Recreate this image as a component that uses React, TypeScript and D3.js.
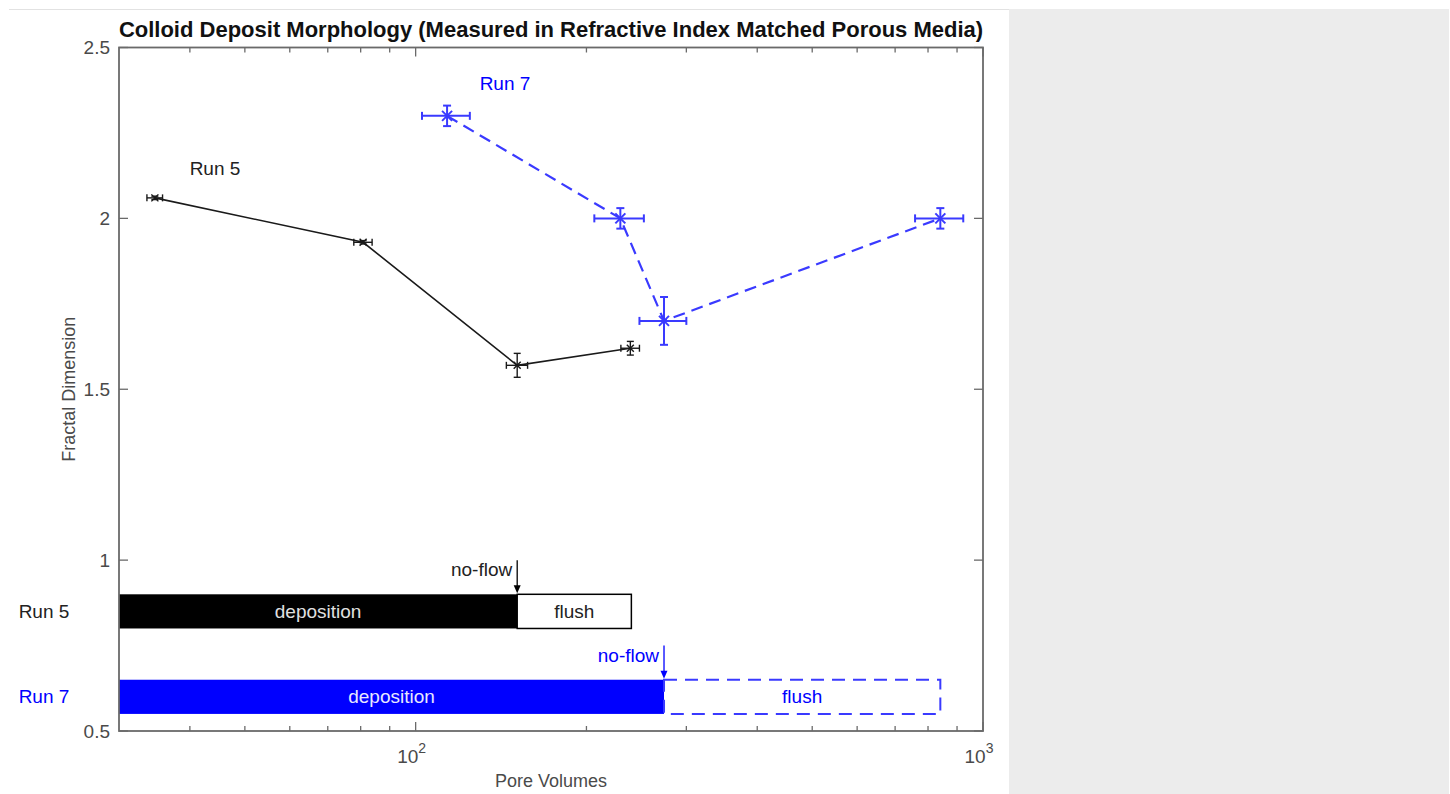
import React from "react";
import * as d3 from "d3";

// Run 5 measurements (pore volumes, fractal dimension, errors)
const run5Pv = [34.7, 80.8, 151, 239];
const run5Df = [2.06, 1.93, 1.57, 1.62];
const run5PvErr = [1.1, 3, 6.5, 9];
const run5DfErr = [0.005, 0.005, 0.035, 0.02];

// Run 7 measurements
const run7Pv = [113.6, 229.5, 274, 841];
const run7Df = [2.3, 2.0, 1.7, 2.0];
const run7PvErr = [11, 23, 26, 82];
const run7DfErr = [0.03, 0.03, 0.07, 0.03];

// phase bars: [start, no-flow, end] in pore volumes, and [bottom, top] in y
const run5Phases = [30, 151, 240];
const run5Band = [0.8, 0.9];
const run7Phases = [30, 274, 841];
const run7Band = [0.55, 0.65];

const yTicks = [0.5, 1, 1.5, 2, 2.5];
const xMajor = [100, 1000];

const W = 1450, H = 794;
const FONT = "'Liberation Sans', Arial, Helvetica, sans-serif";
const BLUE = "#0000ff";
const BLUE_LINE = "#3a3aff";

export default function App() {
  const margin = { left: 119, right: 983, top: 47.5, bottom: 731 };

  const x = d3.scaleLog().domain([30, 1000]).range([margin.left, margin.right]);
  const y = d3.scaleLinear().domain([0.5, 2.5]).range([margin.bottom, margin.top]);

  // minor log ticks (40..90, 200..900)
  const minor = x.ticks().filter((t) => !xMajor.includes(t) && t > 30 && t < 1000);

  const path = (xs: number[], ys: number[]) =>
    d3
      .line<number>()
      .x((d) => x(d))
      .y((_, i) => y(ys[i]))(xs) as string;

  const errorBars = (
    xs: number[],
    ys: number[],
    xe: number[],
    ye: number[],
    color: string,
    sw: number,
    cap: number,
    mk: number
  ) =>
    xs.map((xv, i) => {
      const cx = x(xv), cy = y(ys[i]);
      const x0 = x(xv - xe[i]), x1 = x(xv + xe[i]);
      const y0 = y(ys[i] - ye[i]), y1 = y(ys[i] + ye[i]);
      return (
        <g key={i} stroke={color} strokeWidth={sw} fill="none">
          <line x1={x0} x2={x1} y1={cy} y2={cy} />
          <line x1={x0} x2={x0} y1={cy - cap} y2={cy + cap} />
          <line x1={x1} x2={x1} y1={cy - cap} y2={cy + cap} />
          <line x1={cx} x2={cx} y1={y0} y2={y1} />
          <line x1={cx - cap} x2={cx + cap} y1={y0} y2={y0} />
          <line x1={cx - cap} x2={cx + cap} y1={y1} y2={y1} />
          <line x1={cx - mk} x2={cx + mk} y1={cy - mk} y2={cy + mk} />
          <line x1={cx - mk} x2={cx + mk} y1={cy + mk} y2={cy - mk} />
        </g>
      );
    });

  const midX = (a: number, b: number) => (x(a) + x(b)) / 2;
  const midY = (band: number[]) => (y(band[0]) + y(band[1])) / 2;

  const axisColor = "#6a6a6a";
  const tickText = "#4a4a4a";

  return (
    <svg
      width={W}
      height={H}
      style={{ position: "absolute", left: 0, top: 0, display: "block" }}
      fontFamily={FONT}
    >
      <rect x={0} y={0} width={W} height={H} fill="#ffffff" />
      <rect x={1009} y={9} width={440} height={H - 9} fill="#ececec" />
      <line x1={9} x2={1009} y1={9.5} y2={9.5} stroke="#e2e2e2" />

      {/* title */}
      <text
        x={(margin.left + margin.right) / 2}
        y={37}
        textAnchor="middle"
        fontWeight="bold"
        fontSize={22}
        fill="#111"
      >
        Colloid Deposit Morphology (Measured in Refractive Index Matched Porous Media)
      </text>

      {/* phase bars */}
      <rect
        x={x(run5Phases[0])}
        y={y(run5Band[1])}
        width={x(run5Phases[1]) - x(run5Phases[0])}
        height={y(run5Band[0]) - y(run5Band[1])}
        fill="#000"
      />
      <rect
        x={x(run5Phases[1])}
        y={y(run5Band[1])}
        width={x(run5Phases[2]) - x(run5Phases[1])}
        height={y(run5Band[0]) - y(run5Band[1])}
        fill="#fff"
        stroke="#000"
        strokeWidth={1.5}
      />
      <rect
        x={x(run7Phases[0])}
        y={y(run7Band[1])}
        width={x(run7Phases[1]) - x(run7Phases[0])}
        height={y(run7Band[0]) - y(run7Band[1])}
        fill={BLUE}
      />
      <rect
        x={x(run7Phases[1])}
        y={y(run7Band[1])}
        width={x(run7Phases[2]) - x(run7Phases[1])}
        height={y(run7Band[0]) - y(run7Band[1])}
        fill="#fff"
        stroke={BLUE_LINE}
        strokeWidth={2}
        strokeDasharray="13 8"
      />
      <g fontSize={19} textAnchor="middle" dominantBaseline="central">
        <text x={midX(run5Phases[0], run5Phases[1])} y={midY(run5Band)} fill="#e0e0e0">
          deposition
        </text>
        <text x={midX(run5Phases[1], run5Phases[2])} y={midY(run5Band)} fill="#222">
          flush
        </text>
        <text x={midX(run7Phases[0], run7Phases[1])} y={midY(run7Band)} fill="#e8e8ff">
          deposition
        </text>
        <text x={midX(run7Phases[1], run7Phases[2])} y={midY(run7Band)} fill={BLUE}>
          flush
        </text>
      </g>

      {/* no-flow arrows */}
      <g>
        <line x1={x(run5Phases[1])} x2={x(run5Phases[1])} y1={y(1.0)} y2={y(run5Band[1]) - 6} stroke="#000" strokeWidth={1.3} />
        <path
          d={`M${x(run5Phases[1]) - 3.5},${y(run5Band[1]) - 9} L${x(run5Phases[1]) + 3.5},${y(run5Band[1]) - 9} L${x(run5Phases[1])},${y(run5Band[1]) - 1} Z`}
          fill="#000"
        />
        <text x={x(run5Phases[1]) - 5} y={y(0.974)} fontSize={19} textAnchor="end" dominantBaseline="central" fill="#222">
          no-flow
        </text>
        <line x1={x(run7Phases[1])} x2={x(run7Phases[1])} y1={y(0.75)} y2={y(run7Band[1]) - 6} stroke={BLUE} strokeWidth={1.3} />
        <path
          d={`M${x(run7Phases[1]) - 3.5},${y(run7Band[1]) - 9} L${x(run7Phases[1]) + 3.5},${y(run7Band[1]) - 9} L${x(run7Phases[1])},${y(run7Band[1]) - 1} Z`}
          fill={BLUE}
        />
        <text x={x(run7Phases[1]) - 5} y={y(0.72)} fontSize={19} textAnchor="end" dominantBaseline="central" fill={BLUE}>
          no-flow
        </text>
      </g>

      {/* data */}
      <path d={path(run5Pv, run5Df)} fill="none" stroke="#1a1a1a" strokeWidth={1.6} />
      {errorBars(run5Pv, run5Df, run5PvErr, run5DfErr, "#1a1a1a", 1.4, 3.5, 3.5)}
      <path d={path(run7Pv, run7Df)} fill="none" stroke={BLUE_LINE} strokeWidth={2.2} strokeDasharray="12 7" />
      {errorBars(run7Pv, run7Df, run7PvErr, run7DfErr, BLUE_LINE, 2, 4, 5)}

      {/* annotations */}
      <text x={215} y={y(2.145)} fontSize={19} textAnchor="middle" dominantBaseline="central" fill="#222">
        Run 5
      </text>
      <text x={505} y={y(2.395)} fontSize={19} textAnchor="middle" dominantBaseline="central" fill={BLUE}>
        Run 7
      </text>
      <text x={44} y={midY(run5Band)} fontSize={19} textAnchor="middle" dominantBaseline="central" fill="#222">
        Run 5
      </text>
      <text x={44} y={midY(run7Band)} fontSize={19} textAnchor="middle" dominantBaseline="central" fill={BLUE}>
        Run 7
      </text>

      {/* axes box */}
      <rect
        x={margin.left}
        y={margin.top}
        width={margin.right - margin.left}
        height={margin.bottom - margin.top}
        fill="none"
        stroke={axisColor}
        strokeWidth={1.8}
      />
      <g stroke={axisColor} strokeWidth={1.3}>
        {yTicks.map((t) => (
          <g key={t}>
            <line x1={margin.left} x2={margin.left + 9} y1={y(t)} y2={y(t)} />
            <line x1={margin.right} x2={margin.right - 9} y1={y(t)} y2={y(t)} />
          </g>
        ))}
        {xMajor.map((t) => (
          <g key={t}>
            <line x1={x(t)} x2={x(t)} y1={margin.bottom} y2={margin.bottom - 9} />
            <line x1={x(t)} x2={x(t)} y1={margin.top} y2={margin.top + 9} />
          </g>
        ))}
        {minor.map((t) => (
          <g key={t}>
            <line x1={x(t)} x2={x(t)} y1={margin.bottom} y2={margin.bottom - 5} />
            <line x1={x(t)} x2={x(t)} y1={margin.top} y2={margin.top + 5} />
          </g>
        ))}
      </g>
      <g fontSize={19} fill={tickText}>
        {yTicks.map((t) => (
          <text key={t} x={margin.left - 9} y={y(t)} textAnchor="end" dominantBaseline="central">
            {t}
          </text>
        ))}
        {xMajor.map((t) => (
          <text key={t} x={x(t) - 4} y={763} textAnchor="middle">
            10
            <tspan fontSize={14} dy={-10}>
              {Math.round(Math.log10(t))}
            </tspan>
          </text>
        ))}
      </g>

      {/* axis labels */}
      <text x={(margin.left + margin.right) / 2} y={787} fontSize={18} textAnchor="middle" fill={tickText}>
        Pore Volumes
      </text>
      <text
        transform={`translate(75,${(margin.top + margin.bottom) / 2}) rotate(-90)`}
        fontSize={18}
        textAnchor="middle"
        fill={tickText}
      >
        Fractal Dimension
      </text>
    </svg>
  );
}
